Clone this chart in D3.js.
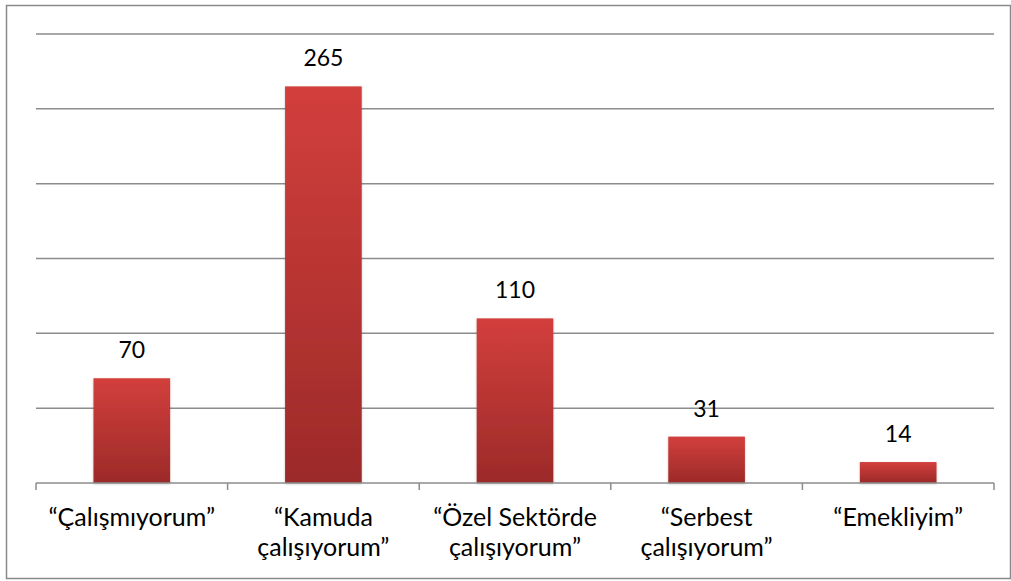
<!DOCTYPE html>
<html>
<head>
<meta charset="utf-8">
<script src="https://cdn.jsdelivr.net/npm/d3@7"></script>
<style>
  html, body { margin: 0; padding: 0; background: #fff; }
  svg { display: block; }
  text { font-family: Lato, "Open Sans", sans-serif; fill: #000; }
</style>
</head>
<body>
<svg id="chart" width="1011" height="581"></svg>
<script>
const categories = [
  ["“Çalışmıyorum”"],
  ["“Kamuda", "çalışıyorum”"],
  ["“Özel Sektörde", "çalışıyorum”"],
  ["“Serbest", "çalışıyorum”"],
  ["“Emekliyim”"]
];
const categoryKeys = ["Çalışmıyorum", "Kamuda", "Özel Sektörde", "Serbest", "Emekliyim"];
const values = [70, 265, 110, 31, 14];
const gridTicks = [0, 50, 100, 150, 200, 250, 300];

const svg = d3.select("#chart");
const plot = { left: 36, right: 994, top: 34, bottom: 483 };

// frame
svg.append("rect")
  .attr("x", 6.5).attr("y", 5.5)
  .attr("width", 1004).attr("height", 573)
  .attr("fill", "#fff").attr("stroke", "#8a8a8a").attr("stroke-width", 1.5);

const x = d3.scaleBand()
  .domain(categoryKeys)
  .range([plot.left, plot.right])
  .paddingInner(0.6)
  .paddingOuter(0.3);

const y = d3.scaleLinear().domain([0, 300]).range([plot.bottom, plot.top]);

const defs = svg.append("defs");
const grad = defs.append("linearGradient")
  .attr("id", "barGrad").attr("x1", 0).attr("y1", 0).attr("x2", 0).attr("y2", 1);
grad.append("stop").attr("offset", "0%").attr("stop-color", "#d23f3c");
grad.append("stop").attr("offset", "100%").attr("stop-color", "#9c2a29");

const shadow = defs.append("filter").attr("id", "shadow")
  .attr("x", "-20%").attr("y", "-20%").attr("width", "140%").attr("height", "140%");
shadow.append("feDropShadow").attr("dx", 0).attr("dy", 1).attr("stdDeviation", 1.2)
  .attr("flood-color", "#000").attr("flood-opacity", 0.25);

// gridlines
svg.append("g")
  .selectAll("line")
  .data(gridTicks.filter(d => d > 0))
  .join("line")
  .attr("x1", plot.left).attr("x2", plot.right)
  .attr("y1", d => y(d)).attr("y2", d => y(d))
  .attr("stroke", "#8c8c8c").attr("stroke-width", 1.5);

// bars
svg.append("g")
  .selectAll("rect")
  .data(values)
  .join("rect")
  .attr("x", (d, i) => x(categoryKeys[i]))
  .attr("y", d => y(d))
  .attr("width", x.bandwidth())
  .attr("height", d => y(0) - y(d))
  .attr("fill", "url(#barGrad)")
  .attr("filter", "url(#shadow)");

// baseline axis with ticks at band boundaries
const axisG = svg.append("g");
axisG.append("line")
  .attr("x1", plot.left).attr("x2", plot.right)
  .attr("y1", y(0)).attr("y2", y(0))
  .attr("stroke", "#8c8c8c").attr("stroke-width", 1.5);
const step = x.step();
const bounds = d3.range(categoryKeys.length + 1).map(i => plot.left + i * step);
axisG.selectAll("line.tick")
  .data(bounds)
  .join("line")
  .attr("class", "tick")
  .attr("x1", d => d).attr("x2", d => d)
  .attr("y1", y(0)).attr("y2", y(0) + 7)
  .attr("stroke", "#8c8c8c").attr("stroke-width", 1.5);

// value labels
svg.append("g")
  .selectAll("text")
  .data(values)
  .join("text")
  .attr("x", (d, i) => x(categoryKeys[i]) + x.bandwidth() / 2)
  .attr("y", d => y(d) - 20)
  .attr("text-anchor", "middle")
  .attr("font-size", 23)
  .text(d => d);

// category labels
const catG = svg.append("g");
categories.forEach((lines, i) => {
  const cx = x(categoryKeys[i]) + x.bandwidth() / 2;
  const t = catG.append("text")
    .attr("x", cx)
    .attr("y", 526)
    .attr("text-anchor", "middle")
    .attr("font-size", 25);
  lines.forEach((ln, j) => {
    t.append("tspan")
      .attr("x", cx)
      .attr("dy", j === 0 ? 0 : 30)
      .text(ln);
  });
});
</script>
</body>
</html>
